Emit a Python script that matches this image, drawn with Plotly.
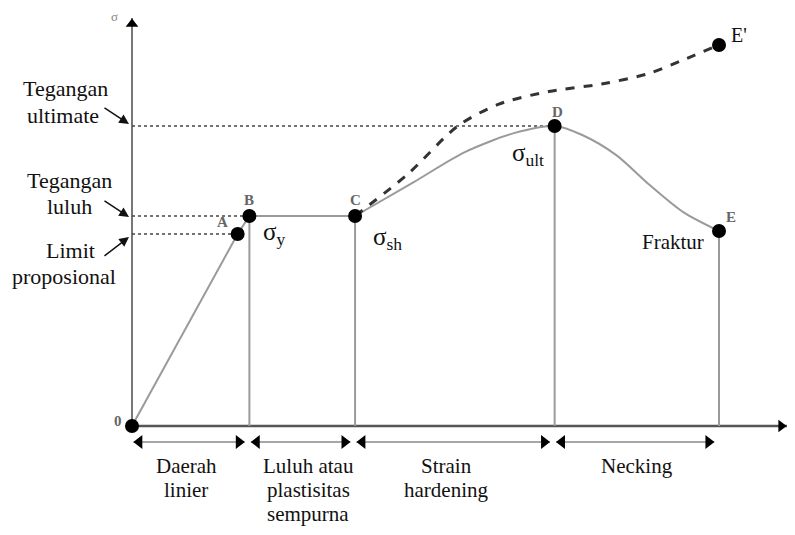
import plotly.graph_objects as go

# ---------------- data (arbitrary strain / stress units) ----------------
point_names = ['A', 'B', 'C', 'D', 'E', "E'"]
strain = [0, 18, 20, 38, 72, 100, 100]          # O, A, B, C, D, E, E'
stress = [0, 64, 70, 70, 100, 65, 127]

# elastic + yield plateau path O-A-B-C
elastic_x = [0, 18, 20, 38]
elastic_y = [0, 64, 70, 70]

# engineering curve C -> D -> E (solid)
hard_x = [38, 48, 56.7, 65.2, 72, 76.7, 82.5, 88.2, 93.9, 100]
hard_y = [70, 81.3, 91.3, 97.7, 100, 97, 90.3, 80.3, 71.3, 65]

# true stress curve C -> E' (dashed)
true_x = [38, 47, 55.5, 62.5, 71, 80, 88, 94.5, 100]
true_y = [70, 84, 100, 107.3, 111.5, 114, 117.5, 122.5, 127]

region_bounds = [0, 20, 38, 72, 100]
region_labels = [['Daerah', 'linier'],
                 ['Luluh atau', 'plastisitas', 'sempurna'],
                 ['Strain', 'hardening'],
                 ['Necking']]

# ---------------- layout helpers ----------------
W, H = 795, 535
PAGE = 8                      # browser body margin
FW, FH = W - 2 * PAGE, H - 2 * PAGE
X0PX, Y0PX = 132, 426
SX, SY = 5.87, 3.0


def X(p):
    return (p - X0PX) / SX


def Y(p):
    return (Y0PX - p) / SY


SERIF = 'Liberation Serif, Times New Roman, serif'
GRAY = '#9a9a9a'

fig = go.Figure()


def line(x, y, color=GRAY, width=2, dash='solid', shape='linear', smoothing=1.0):
    fig.add_trace(go.Scatter(x=x, y=y, mode='lines', hoverinfo='skip',
                             line=dict(color=color, width=width, dash=dash, shape=shape,
                                       smoothing=smoothing)))


# axes
line([0, 0], [0, Y(18)], color='#777', width=2)
line([0, X(787)], [0, 0], color='#555', width=2.5)
fig.add_trace(go.Scatter(x=[0], y=[Y(18) - 2], mode='markers', hoverinfo='skip',
                         marker=dict(symbol='triangle-up', size=11, color='black')))
fig.add_trace(go.Scatter(x=[X(787) - 1], y=[0], mode='markers', hoverinfo='skip',
                         marker=dict(symbol='triangle-right', size=11, color='black')))

# dotted reference lines to the stress axis
line([0, strain[4]], [stress[4], stress[4]], color='#444', width=1.6, dash='dot')
line([0, strain[2]], [stress[2], stress[2]], color='#444', width=1.6, dash='dot')
line([0, strain[1]], [stress[1], stress[1]], color='#444', width=1.6, dash='dot')

# vertical drop lines at B, C, D, E
for i in [2, 3, 4, 5]:
    line([strain[i], strain[i]], [0, stress[i]], color=GRAY, width=2)

# curves
line(elastic_x, elastic_y, color=GRAY, width=2)
line(hard_x, hard_y, color=GRAY, width=2, shape='spline', smoothing=0.8)
line(true_x, true_y, color='#333', width=3, dash='dash', shape='spline', smoothing=0.8)

# points
fig.add_trace(go.Scatter(x=strain, y=stress, mode='markers', hoverinfo='skip',
                         marker=dict(size=14, color='black')))

# region double arrows
ay = Y(442)
for a, b in zip(region_bounds[:-1], region_bounds[1:]):
    x1, x2 = a + 0.25, b - 0.8
    line([x1, x2], [ay, ay], color='#888', width=1.6)
    fig.add_trace(go.Scatter(x=[x1 + 1.0, x2 - 1.0], y=[ay, ay], mode='markers',
                             hoverinfo='skip',
                             marker=dict(symbol=['triangle-left', 'triangle-right'],
                                         size=12, color='black')))

annotations = []


def text(xp, yp, s, size=22, color='#111', xanchor='center', bold=False):
    if bold:
        s = '<b>' + s + '</b>'
    annotations.append(dict(x=X(xp), y=Y(yp), text=s, showarrow=False,
                            xref='x', yref='y', xanchor=xanchor, yanchor='middle',
                            font=dict(family=SERIF, size=size, color=color)))


# left labels
text(65, 88, 'Tegangan')
text(63, 115, 'ultimate')
text(69, 180, 'Tegangan')
text(69, 206, 'luluh')
text(70, 250, 'Limit')
text(64, 276, 'proposional')

# label arrows to the stress axis
for (hx, hy), (tx, ty) in [((129, 124), (103, 107)),
                           ((129, 217), (103, 200)),
                           ((129, 237), (103, 257))]:
    annotations.append(dict(x=X(hx), y=Y(hy), ax=X(tx), ay=Y(ty), axref='x', ayref='y',
                            xref='x', yref='y', text='', showarrow=True, arrowhead=2,
                            arrowsize=1.3, arrowwidth=1.5, arrowcolor='#111'))

# region labels
centers = [186, 308, 446, 637]
for cx, lines_ in zip(centers, region_labels):
    for k, s in enumerate(lines_):
        text(cx, 466 + 24 * k, s, size=21)

# point letters
text(222, 222, 'A', size=15, color='#666', bold=True)
text(249, 200, 'B', size=15, color='#666', bold=True)
text(355, 200, 'C', size=15, color='#666', bold=True)
text(557, 112, 'D', size=15, color='#666', bold=True)
text(731, 217, 'E', size=15, color='#666', bold=True)
text(729, 35, "E'", size=20, color='#111', xanchor='left')
text(118, 421, '0', size=15, color='#666', bold=True)
text(114, 16, 'σ', size=13, color='#888')

# sigma labels
text(261, 233, 'σ<sub>y</sub>', size=25, xanchor='left')
text(371, 238, 'σ<sub>sh</sub>', size=25, xanchor='left')
text(510, 154, 'σ<sub>ult</sub>', size=25, xanchor='left')
text(673, 242, 'Fraktur', size=21)

fig.update_layout(
    width=FW, height=FH, autosize=False,
    margin=dict(l=0, r=0, t=0, b=0),
    paper_bgcolor='white', plot_bgcolor='white',
    showlegend=False,
    xaxis=dict(range=[X(PAGE), X(PAGE + FW)], visible=False, fixedrange=True),
    yaxis=dict(range=[Y(PAGE + FH), Y(PAGE)], visible=False, fixedrange=True),
    annotations=annotations,
)

fig.write_html('out.html', config={'displayModeBar': False})
